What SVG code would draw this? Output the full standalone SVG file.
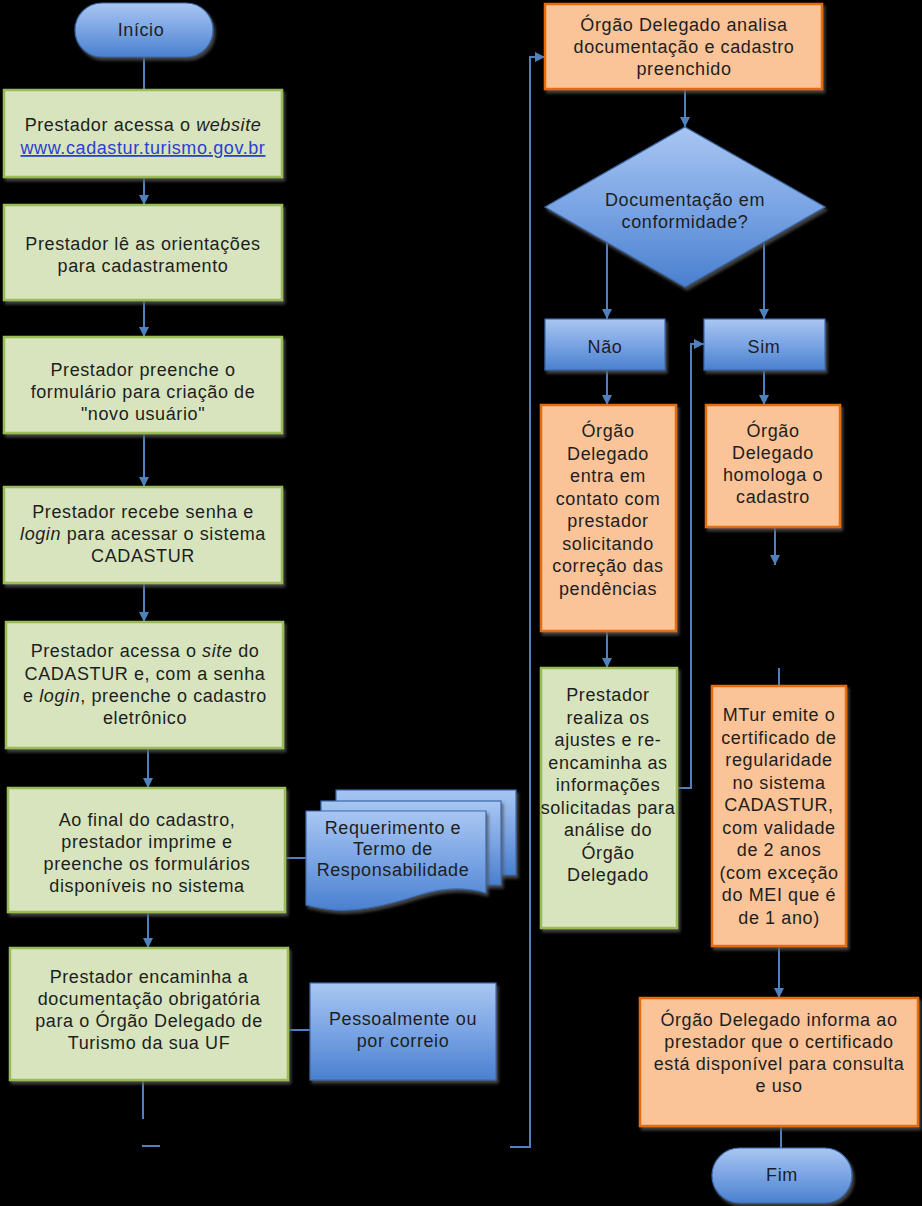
<svg xmlns="http://www.w3.org/2000/svg" width="922" height="1206" viewBox="0 0 922 1206">
<defs>
<linearGradient id="blue" x1="0" y1="0" x2="0" y2="1">
<stop offset="0" stop-color="#a8c6f2"/>
<stop offset="0.5" stop-color="#7aa4e4"/>
<stop offset="1" stop-color="#4a80cf"/>
</linearGradient>
<filter id="sh" x="-10%" y="-10%" width="130%" height="130%">
<feDropShadow dx="2" dy="3" stdDeviation="1.5" flood-color="#555" flood-opacity="0.8"/>
</filter>
<marker id="ah" viewBox="0 0 10 10" refX="10" refY="5" markerWidth="10" markerHeight="10" markerUnits="userSpaceOnUse" orient="auto">
<path d="M0,0 L10,5 L0,10 Z" fill="#4f81bd"/>
</marker>
<style>
.g{fill:#d7e4bd;stroke:#9bbb59;stroke-width:2.5;filter:url(#sh)}
.o{fill:#fbc498;stroke:#e46c0a;stroke-width:2.5;filter:url(#sh)}
.b{fill:url(#blue);stroke:#3d6aa8;stroke-width:1.2;filter:url(#sh)}
.t{font-family:"Liberation Sans",Arial,sans-serif;font-size:18px;letter-spacing:0.6px;fill:#1e1e1e;text-anchor:middle}
.c{fill:none;stroke:#4f81bd;stroke-width:2}
.a{marker-end:url(#ah)}
</style>
</defs>
<rect width="922" height="1206" fill="#000"/>

<g id="connectors">
<line class="c" x1="144" y1="57" x2="144" y2="90"/>
<line class="c a" x1="144" y1="178" x2="144" y2="205"/>
<line class="c a" x1="144" y1="301" x2="144" y2="337"/>
<line class="c a" x1="144" y1="434" x2="144" y2="487"/>
<line class="c a" x1="144" y1="584" x2="144" y2="622"/>
<line class="c a" x1="148" y1="749" x2="148" y2="788"/>
<line class="c a" x1="148" y1="913" x2="148" y2="948"/>
<line class="c" x1="285" y1="858" x2="306" y2="858"/>
<line class="c" x1="288" y1="1030" x2="310" y2="1030"/>
<line class="c" x1="143" y1="1081" x2="143" y2="1119"/>
<line class="c" x1="142" y1="1146" x2="160" y2="1146"/>
<polyline class="c a" points="510,1147 530,1147 530,57 545,57"/>
<line class="c a" x1="685" y1="90" x2="685" y2="127"/>
<line class="c a" x1="607" y1="243" x2="607" y2="319"/>
<line class="c a" x1="764" y1="243" x2="764" y2="319"/>
<line class="c a" x1="607" y1="371" x2="607" y2="405"/>
<line class="c a" x1="764" y1="371" x2="764" y2="405"/>
<line class="c a" x1="607" y1="632" x2="607" y2="668"/>
<polyline class="c a" points="677,788 691,788 691,344 704,344"/>
<line class="c a" x1="775" y1="528" x2="775" y2="565"/>
<line class="c" x1="779" y1="668" x2="779" y2="686"/>
<line class="c a" x1="779" y1="947" x2="779" y2="998"/>
<line class="c" x1="781" y1="1127" x2="781" y2="1148"/>
</g>

<g id="inicio">
<rect class="b" x="75" y="3" width="138" height="54" rx="27"/>
<text class="t" x="141" y="36">Início</text>
</g>

<g id="n1">
<rect class="g" x="4" y="90" width="278" height="87"/>
<text class="t" x="143" y="131">Prestador acessa o <tspan font-style="italic">website</tspan></text>
<text class="t" x="143" y="154" fill="#1f3fd8" text-decoration="underline" style="fill:#2b3fd0">www.cadastur.turismo.gov.br</text>
</g>

<g id="n2">
<rect class="g" x="4" y="205" width="278" height="95"/>
<text class="t" x="143" y="250">Prestador lê as orientações</text>
<text class="t" x="143" y="272">para cadastramento</text>
</g>

<g id="n3">
<rect class="g" x="4" y="337" width="278" height="96"/>
<text class="t" x="143" y="376">Prestador preenche o</text>
<text class="t" x="143" y="398">formulário para criação de</text>
<text class="t" x="143" y="420">"novo usuário"</text>
</g>

<g id="n4">
<rect class="g" x="4" y="487" width="278" height="96"/>
<text class="t" x="143" y="518">Prestador recebe senha e</text>
<text class="t" x="143" y="540"><tspan font-style="italic">login</tspan> para acessar o sistema</text>
<text class="t" x="143" y="562">CADASTUR</text>
</g>

<g id="n5">
<rect class="g" x="6" y="622" width="277" height="126"/>
<text class="t" x="145" y="657">Prestador acessa o <tspan font-style="italic">site</tspan> do</text>
<text class="t" x="145" y="680">CADASTUR e, com a senha</text>
<text class="t" x="145" y="702">e <tspan font-style="italic">login</tspan>, preenche o cadastro</text>
<text class="t" x="145" y="724">eletrônico</text>
</g>

<g id="n6">
<rect class="g" x="8" y="788" width="277" height="124"/>
<text class="t" x="147" y="826">Ao final do cadastro,</text>
<text class="t" x="147" y="848">prestador imprime e</text>
<text class="t" x="147" y="870">preenche os formulários</text>
<text class="t" x="147" y="892">disponíveis no sistema</text>
</g>

<g id="n7">
<rect class="g" x="10" y="948" width="278" height="132"/>
<text class="t" x="149" y="983">Prestador encaminha a</text>
<text class="t" x="149" y="1005">documentação obrigatória</text>
<text class="t" x="149" y="1027">para o Órgão Delegado de</text>
<text class="t" x="149" y="1049">Turismo da sua UF</text>
</g>

<g id="docs">
<rect class="b" x="336" y="790" width="180" height="85"/>
<rect class="b" x="321" y="801" width="180" height="84"/>
<path class="b" d="M306,811 H486 V893 C462,886 440,888 416,896 C388,905 360,912 334,910 C322,909 314,907 306,905 Z"/>
<text class="t" x="393" y="834">Requerimento e</text>
<text class="t" x="393" y="855">Termo de</text>
<text class="t" x="393" y="876">Responsabilidade</text>
</g>

<g id="pessoal">
<rect class="b" x="310" y="983" width="186" height="97"/>
<text class="t" x="403" y="1025">Pessoalmente ou</text>
<text class="t" x="403" y="1047">por correio</text>
</g>

<g id="analisa">
<rect class="o" x="545" y="4" width="277" height="85"/>
<text class="t" x="684" y="31">Órgão Delegado analisa</text>
<text class="t" x="684" y="53">documentação e cadastro</text>
<text class="t" x="684" y="75">preenchido</text>
</g>

<g id="decisao">
<polygon class="b" points="685,127 825,207 685,287 545,207"/>
<text class="t" x="685" y="206">Documentação em</text>
<text class="t" x="685" y="228">conformidade?</text>
</g>

<g id="nao">
<rect class="b" x="545" y="319" width="120" height="51"/>
<text class="t" x="605" y="353">Não</text>
</g>

<g id="sim">
<rect class="b" x="704" y="319" width="121" height="51"/>
<text class="t" x="764" y="353">Sim</text>
</g>

<g id="contato">
<rect class="o" x="541" y="405" width="135" height="226"/>
<text class="t" x="608" y="437">Órgão</text>
<text class="t" x="608" y="459.5">Delegado</text>
<text class="t" x="608" y="482">entra em</text>
<text class="t" x="608" y="504.5">contato com</text>
<text class="t" x="608" y="527">prestador</text>
<text class="t" x="608" y="549.5">solicitando</text>
<text class="t" x="608" y="572">correção das</text>
<text class="t" x="608" y="594.5">pendências</text>
</g>

<g id="homologa">
<rect class="o" x="706" y="405" width="134" height="122"/>
<text class="t" x="773" y="437">Órgão</text>
<text class="t" x="773" y="459">Delegado</text>
<text class="t" x="773" y="481">homologa o</text>
<text class="t" x="773" y="503">cadastro</text>
</g>

<g id="ajustes">
<rect class="g" x="541" y="668" width="136" height="260"/>
<text class="t" x="608" y="701">Prestador</text>
<text class="t" x="608" y="723.5">realiza os</text>
<text class="t" x="608" y="746">ajustes e re-</text>
<text class="t" x="608" y="768.5">encaminha as</text>
<text class="t" x="608" y="791">informações</text>
<text class="t" x="608" y="813.5">solicitadas para</text>
<text class="t" x="608" y="836">análise do</text>
<text class="t" x="608" y="858.5">Órgão</text>
<text class="t" x="608" y="881">Delegado</text>
</g>

<g id="mtur">
<rect class="o" x="712" y="686" width="134" height="260"/>
<text class="t" x="779" y="721">MTur emite o</text>
<text class="t" x="779" y="743.5">certificado de</text>
<text class="t" x="779" y="766">regularidade</text>
<text class="t" x="779" y="788.5">no sistema</text>
<text class="t" x="779" y="811">CADASTUR,</text>
<text class="t" x="779" y="833.5">com validade</text>
<text class="t" x="779" y="856">de 2 anos</text>
<text class="t" x="779" y="878.5">(com exceção</text>
<text class="t" x="779" y="901">do MEI que é</text>
<text class="t" x="779" y="923.5">de 1 ano)</text>
</g>

<g id="informa">
<rect class="o" x="640" y="998" width="278" height="128"/>
<text class="t" x="779" y="1026">Órgão Delegado informa ao</text>
<text class="t" x="779" y="1048">prestador que o certificado</text>
<text class="t" x="779" y="1070">está disponível para consulta</text>
<text class="t" x="779" y="1092">e uso</text>
</g>

<g id="fim">
<rect class="b" x="712" y="1148" width="140" height="55" rx="27.5"/>
<text class="t" x="782" y="1181">Fim</text>
</g>
</svg>
